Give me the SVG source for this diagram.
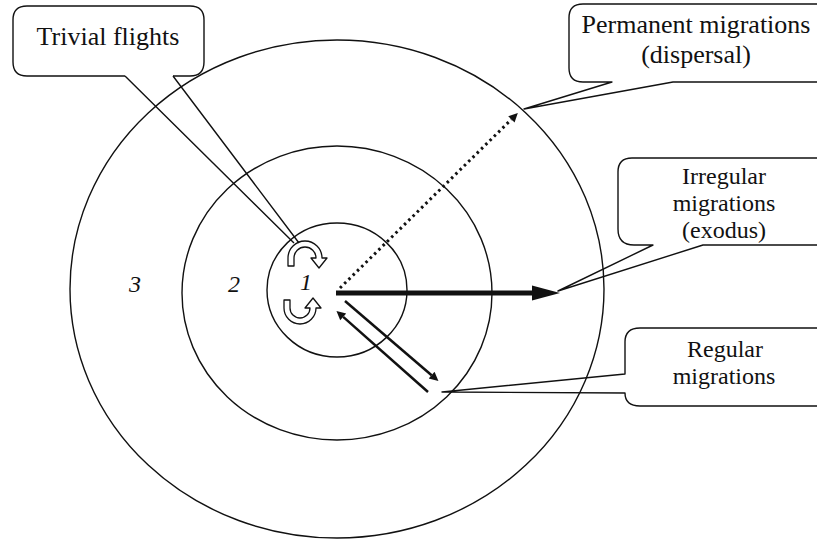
<svg xmlns="http://www.w3.org/2000/svg" width="817" height="539" viewBox="0 0 817 539">
<style>
.ring{fill:none;stroke:#111;stroke-width:1.4}
.bg{fill:#fff;stroke:none}
.box{fill:none;stroke:#111;stroke-width:1.4;stroke-linejoin:round}
.lbl{font-family:'Liberation Serif','DejaVu Serif','Times New Roman',Times,serif;font-size:26px;fill:#111;text-anchor:middle}
.sm{font-size:24px}
.num{font-family:'Liberation Serif','DejaVu Serif','Times New Roman',Times,serif;font-size:24px;font-style:italic;fill:#111;text-anchor:middle}
.cur{fill:#fff;stroke:#111;stroke-width:1.3;stroke-linejoin:round}
</style>
<defs>
<marker id="head" viewBox="0 0 10 10" refX="0" refY="5" markerUnits="userSpaceOnUse" markerWidth="13" markerHeight="9" orient="auto">
<path d="M0,0 L10,5 L0,10 z" fill="#111"/>
</marker>
<marker id="headL" viewBox="0 0 10 10" refX="0" refY="5" markerUnits="userSpaceOnUse" markerWidth="15" markerHeight="9" orient="auto">
<path d="M0,0 L10,5 L0,10 z" fill="#111"/>
</marker>
</defs>
<rect width="817" height="539" fill="#fff"/>

<g id="zones">
<ellipse class="ring" cx="337" cy="289" rx="267" ry="249"/>
<ellipse class="ring" cx="337" cy="293" rx="155" ry="147"/>
<ellipse class="ring" cx="337" cy="290" rx="70" ry="67"/>
<text class="num" x="135" y="292">3</text>
<text class="num" x="234" y="292">2</text>
<text class="num" x="306" y="290">1</text>
</g>

<g id="trivial-arrows">
<path class="cur" d="M288,266 L288,258 A17,17 0 0 1 322,258 L327,258 L319,268 L311,258 L316,258 A11,11 0 0 0 294,258 L294,266 Z"/>
<path class="cur" d="M284,300 L284,308 A16,16 0 0 0 316,308 L321,308 L313,298 L305,308 L310,308 A10,10 0 0 1 290,308 L290,300 Z"/>
</g>

<g id="connectors">
<line x1="340" y1="288" x2="511.4" y2="119.4" stroke="#111" stroke-width="3" stroke-dasharray="2.5 3.5" marker-end="url(#head)"/>
<line x1="336" y1="293" x2="534" y2="293" stroke="#111" stroke-width="5"/>
<polygon points="532,285.5 560,293 532,300.5" fill="#111"/>
<line x1="345" y1="301" x2="431.6" y2="375.2" stroke="#111" stroke-width="2.5" marker-end="url(#headL)"/>
<line x1="428" y1="392" x2="343.2" y2="316.9" stroke="#111" stroke-width="2.5" marker-end="url(#headL)"/>
</g>

<g id="trivial-flights">
<rect class="bg" x="13" y="6" width="191" height="70" rx="14"/>
<path class="box" d="M173,76 H190 Q204,76 204,62 V20 Q204,6 190,6 H27 Q13,6 13,20 V62 Q13,76 27,76 H125"/>
<path class="box" d="M125,76 L294,243 M173,76 L299,243"/>
<text class="lbl" x="108" y="45">Trivial flights</text>
</g>

<g id="permanent-migrations">
<rect class="bg" x="569" y="4" width="270" height="78" rx="14"/>
<path class="box" d="M830,82 H673 L524,109 L612,82 H583 Q569,82 569,68 V18 Q569,4 583,4 H830"/>
<text class="lbl" x="696" y="33">Permanent migrations</text>
<text class="lbl" x="696" y="63">(dispersal)</text>
</g>

<g id="irregular-migrations">
<rect class="bg" x="618" y="158" width="220" height="87" rx="14"/>
<path class="box" d="M830,245 H703 L558,291 L653,245 H634 Q618,245 618,229 V172 Q618,158 632,158 H830"/>
<text class="lbl sm" x="724" y="184">Irregular</text>
<text class="lbl sm" x="724" y="211">migrations</text>
<text class="lbl sm" x="724" y="238">(exodus)</text>
</g>

<g id="regular-migrations">
<rect class="bg" x="625" y="328" width="220" height="78" rx="14"/>
<path class="box" d="M830,406 H640 Q625,406 625,393 L442,392 L625,374 V342 Q625,328 640,328 H830"/>
<text class="lbl sm" x="725" y="357">Regular</text>
<text class="lbl sm" x="724" y="384">migrations</text>
</g>
</svg>
